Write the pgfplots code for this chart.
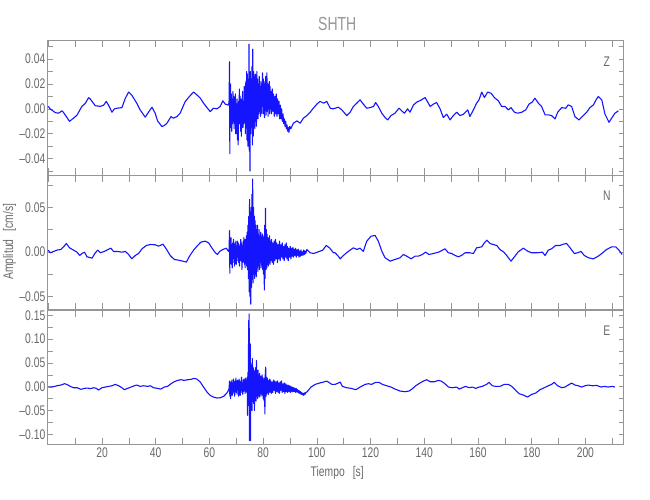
\documentclass[border=0pt]{standalone}
\usepackage{pgfplots}
\pgfplotsset{compat=1.18}
\usepackage{pgfplotstable}
\usepackage{fontspec}
\setmainfont{Liberation Sans}[FakeStretch=0.74]
\definecolor{txt}{RGB}{105,105,105}
\definecolor{frm}{RGB}{150,150,150}
\definecolor{ttl}{RGB}{150,150,150}
\definecolor{trace}{RGB}{20,20,255}

\pgfplotstableread{
t v
0 0.002
0.7 0.000
2.6 -0.003
3.8 -0.0035
5.1 -0.0016
5.7 -0.003
7.9 -0.010
9.4 -0.0075
10.7 -0.005
12.5 0.002
13.8 0.0045
15.0 0.009
15.6 0.008
17.5 0.0025
19.4 0.002
20.6 0.003
21.6 0.006
22.5 0.0027
23.7 -0.0027
24.6 0.000
25.6 0.0005
27.4 0.001
28.7 0.0086
29.9 0.0135
31.1 0.011
33.0 0.0043
34.2 -0.0008
36.1 -0.0067
37.3 -0.0027
38.6 0.0013
39.8 -0.0035
40.7 -0.0097
42.3 -0.0142
43.2 -0.0134
44.2 -0.0115
45.7 -0.0062
46.6 -0.0075
47.9 -0.0062
49.1 -0.0035
51.0 0.006
52.9 0.0108
54.1 0.0135
55.3 0.0113
56.6 0.0086
57.8 0.0046
59.1 0.001
60.3 -0.0022
61.5 0.0005
62.8 0.000
64.0 0.0019
65.0 0.0065
65.9 0.0038
67.0 0.003
67.3 0.005
67.5 0.038
67.6 -0.036
67.7 0.015
67.8 -0.010
67.9 0.020
68.0 -0.015
68.15 0.012
68.3 -0.018
68.45 0.008
68.6 -0.012
68.75 0.014
68.9 -0.008
69.05 0.010
69.2 -0.016
69.35 0.006
69.5 -0.010
69.65 0.012
69.8 -0.020
69.95 0.004
70.1 -0.014
70.25 0.008
70.4 -0.025
70.55 0.002
70.7 -0.029
70.85 0.006
71.0 -0.012
71.15 0.016
71.3 -0.006
71.45 0.010
71.6 -0.018
71.75 0.004
71.9 -0.022
72.05 0.008
72.2 -0.010
72.35 0.014
72.5 -0.015
72.65 0.006
72.8 -0.012
72.95 0.018
73.1 -0.008
73.25 0.012
73.4 -0.020
73.55 0.022
73.7 -0.010
73.85 0.030
74.0 -0.025
74.15 0.028
74.3 -0.030
74.45 0.020
74.6 -0.018
74.75 0.052
74.85 -0.034
75.0 0.026
75.1 -0.050
75.25 0.030
75.4 -0.020
75.55 0.024
75.7 -0.015
75.85 0.034
76.0 -0.029
76.15 0.048
76.3 -0.022
76.45 0.030
76.6 -0.012
76.75 0.026
76.9 -0.016
77.05 0.028
77.2 -0.010
77.35 0.022
77.5 -0.014
77.65 0.030
77.8 -0.006
77.95 0.024
78.1 -0.008
78.25 0.020
78.4 -0.004
78.55 0.026
78.7 -0.002
78.85 0.018
79.0 -0.006
79.15 0.022
79.3 0.000
79.45 0.020
79.6 -0.004
79.75 0.029
79.9 0.002
80.05 0.024
80.2 -0.004
80.35 0.020
80.5 -0.007
80.65 0.022
80.8 0.000
80.95 0.026
81.1 -0.005
81.25 0.018
81.4 0.029
81.55 -0.002
81.7 0.020
81.85 -0.006
82.0 0.016
82.15 0.002
82.3 0.022
82.45 -0.004
82.6 0.018
82.75 0.000
82.9 0.014
83.15 -0.004
83.4 0.016
83.65 -0.002
83.9 0.012
84.15 -0.006
84.4 0.010
84.65 -0.004
84.9 0.012
85.15 -0.006
85.4 0.008
85.65 -0.004
85.9 0.006
86.15 -0.008
86.4 0.003
86.65 -0.008
86.9 0.000
87.15 -0.010
87.4 -0.004
87.65 -0.012
87.9 -0.008
88.15 -0.014
88.4 -0.010
88.65 -0.016
88.9 -0.013
89.15 -0.018
89.4 -0.015
89.6 -0.019
89.9 -0.014
90.3 -0.016
91.3 -0.0115
92.6 -0.0097
93.8 -0.0115
95.0 -0.0075
96.3 -0.0054
97.5 -0.0027
98.7 0.0005
100.0 0.0038
101.2 0.006
102.5 0.0046
103.7 0.006
105.0 0.0005
106.0 0.000
106.8 0.0005
108.0 0.0013
109.3 -0.0008
111.1 -0.0054
112.4 -0.0027
113.6 0.0019
114.9 0.0046
116.1 0.0073
117.3 0.0038
118.6 0.0005
119.8 0.001
121.1 0.0019
121.9 0.0051
122.9 0.0019
124.2 -0.0035
125.4 -0.007
126.4 -0.0089
127.6 -0.0054
129.1 -0.0035
130.6 0.0005
131.6 -0.0016
132.6 -0.0035
133.8 0.000
134.7 -0.0027
136.0 0.0032
137.2 0.0054
138.8 0.007
140.3 0.0091
141.3 0.0054
142.2 0.0019
143.4 0.0038
144.6 0.0051
145.9 0.000
147.1 -0.007
148.4 -0.0043
149.6 -0.0089
150.8 -0.0054
152.1 -0.0027
153.3 -0.0054
154.6 -0.0043
156.2 -0.0008
157.0 -0.0062
158.3 -0.0008
159.5 0.0046
160.4 0.0073
161.4 0.0135
162.4 0.0091
163.6 0.0135
164.9 0.0126
166.1 0.0091
167.6 0.0065
168.8 0.0019
170.1 0.0019
171.3 -0.0008
172.3 0.001
173.6 -0.0027
174.8 -0.0035
176.3 -0.0027
177.8 -0.0008
179.0 0.0038
180.2 0.0054
181.2 0.0086
182.5 0.0046
183.7 0.0019
185.0 -0.0048
186.2 -0.0048
187.4 -0.0054
188.7 -0.0081
189.7 -0.0027
191.2 0.001
192.7 0.0005
193.6 0.0032
194.9 0.0019
196.1 -0.0062
197.6 -0.0089
199.2 -0.0054
200.5 -0.0027
201.7 0.001
203.0 0.0032
204.0 0.0073
204.8 0.0099
206.1 0.0073
207.3 -0.0043
208.8 -0.0108
209.8 -0.0075
211.0 -0.0035
212.3 -0.0016
}\dataZ

\pgfplotstableread{
t v
0 0.0019
0.7 -0.0011
2.0 0.0004
3.2 0.0019
4.7 0.0026
5.7 0.0056
6.7 0.0094
7.9 0.0045
9.4 0.0019
10.7 -0.0004
11.7 -0.0041
12.5 -0.0019
13.5 -0.0004
14.4 -0.0056
16.3 -0.0071
17.5 -0.0011
18.4 0.0019
19.4 -0.0011
20.8 0.0004
21.8 0.0019
23.3 0.0041
24.3 0.0004
25.8 0.0004
27.4 -0.0004
28.7 0.0004
29.9 -0.003
31.1 -0.0079
32.4 -0.0041
33.6 -0.0019
34.9 0.0034
36.5 0.0071
38.0 0.0082
39.8 0.0079
41.1 0.0064
42.7 0.0086
43.9 0.0034
45.4 -0.0041
46.9 -0.0086
48.5 -0.0094
50.1 -0.0105
51.4 -0.0116
52.6 -0.0049
54.1 0.0019
55.6 0.0071
56.8 0.0109
58.4 0.012
59.7 0.0101
60.9 0.0045
62.2 -0.0011
63.0 -0.003
63.8 0.0004
65.0 0.0026
66.3 0.0041
67.1 0.0004
67.3 0.002
67.5 0.024
67.6 -0.024
67.75 0.012
67.9 -0.010
68.05 0.016
68.2 -0.014
68.35 0.008
68.5 -0.018
68.65 0.010
68.8 -0.006
68.95 0.014
69.1 -0.012
69.25 0.006
69.4 -0.016
69.55 0.010
69.7 -0.008
69.85 0.012
70.0 -0.014
70.15 0.004
70.3 -0.010
70.45 0.012
70.6 -0.006
70.75 0.010
70.9 -0.012
71.05 0.008
71.2 -0.016
71.35 0.006
71.5 -0.010
71.65 0.014
71.8 -0.008
71.95 0.010
72.1 -0.020
72.25 0.006
72.4 -0.012
72.55 0.012
72.7 -0.008
72.85 0.016
73.0 -0.014
73.15 0.010
73.3 -0.018
73.45 0.014
73.6 -0.010
73.75 0.018
73.9 -0.016
74.05 0.022
74.2 -0.020
74.35 0.030
74.5 -0.030
74.65 0.040
74.8 -0.045
74.95 0.059
75.1 -0.050
75.25 0.045
75.4 -0.059
75.55 0.050
75.7 -0.040
75.85 0.065
76.0 -0.030
76.1 0.082
76.25 -0.035
76.4 0.050
76.55 -0.025
76.7 0.040
76.85 -0.030
77.0 0.035
77.15 -0.020
77.3 0.030
77.45 -0.028
77.6 0.025
77.75 -0.018
77.9 0.030
78.05 -0.022
78.2 0.020
78.35 -0.015
78.5 0.025
78.65 -0.020
78.8 0.018
78.95 -0.012
79.1 0.022
79.25 -0.018
79.4 0.015
79.55 -0.015
79.7 0.020
79.85 -0.020
80.0 0.016
80.15 -0.025
80.3 0.018
80.45 -0.043
80.6 0.030
80.75 -0.030
80.9 0.049
81.05 -0.020
81.2 0.025
81.35 -0.018
81.5 0.020
81.65 -0.014
81.8 0.016
81.95 -0.016
82.1 0.014
82.25 -0.012
82.4 0.018
82.55 -0.014
82.7 0.012
82.85 -0.010
83.1 0.014
83.35 -0.012
83.6 0.010
83.85 -0.014
84.1 0.012
84.35 -0.010
84.6 0.014
84.85 -0.008
85.1 0.010
85.35 -0.012
85.6 0.008
85.85 -0.008
86.1 0.012
86.35 -0.010
86.6 0.008
86.85 -0.006
87.1 0.010
87.35 -0.008
87.6 0.006
87.85 -0.010
88.1 0.008
88.35 -0.006
88.6 0.010
88.85 -0.008
89.1 0.006
89.35 -0.010
89.6 0.004
89.85 -0.006
90.1 0.006
90.35 -0.008
90.6 0.004
90.85 -0.005
91.1 0.005
91.35 -0.006
91.6 0.003
91.85 -0.004
92.1 0.004
92.35 -0.006
92.6 0.002
92.85 -0.004
93.1 0.003
93.35 -0.006
93.6 0.001
93.85 -0.005
94.1 0.002
94.35 -0.004
94.6 0.000
94.85 -0.004
95.1 0.002
95.35 -0.003
95.6 0.001
95.85 -0.002
96.3 0.0026
97.5 -0.0011
98.8 -0.0019
100.6 0.000
102.2 0.0019
103.5 0.0071
104.7 0.0045
106.2 -0.0011
106.8 -0.0011
108.0 -0.0049
108.7 -0.0079
109.9 -0.0041
111.1 -0.0011
112.4 0.0019
113.6 0.0045
114.9 0.0026
116.1 0.0041
117.3 0.0004
118.6 0.012
120.2 0.0176
121.7 0.0184
122.9 0.012
124.2 0.0007
125.4 -0.0067
127.3 -0.0105
129.1 -0.0086
131.0 -0.0067
132.2 -0.003
133.5 -0.0049
135.1 -0.0079
136.6 -0.0049
137.8 -0.0049
139.3 -0.003
140.5 -0.0004
141.8 -0.003
143.4 -0.0019
145.3 -0.0004
146.8 0.0019
147.7 0.0034
149.0 -0.0011
150.2 -0.0019
151.5 -0.0041
152.7 -0.0056
153.9 -0.0041
155.2 -0.0011
157.0 -0.0011
158.3 -0.0019
159.5 0.0045
161.4 0.0056
162.4 0.0101
163.3 0.0131
164.5 0.0094
165.7 0.0082
167.0 0.0071
168.2 0.0026
169.5 0.000
170.7 -0.0041
172.3 -0.0105
173.6 -0.0056
175.0 0.000
176.9 0.0041
178.5 0.0007
180.0 -0.0011
181.9 -0.0011
184.0 -0.0004
185.0 -0.0041
186.2 0.0019
187.4 0.0034
188.9 0.0071
190.5 0.0071
191.8 0.0086
193.0 0.0094
194.3 0.0045
195.9 -0.0019
197.1 -0.0011
198.4 0.0004
199.6 -0.0041
201.1 -0.0067
203.0 -0.0079
204.8 -0.0049
206.1 -0.0019
207.9 0.0026
209.8 0.0056
211.3 0.0056
212.5 0.0019
213.7 -0.003
}\dataN

\pgfplotstableread{
t v
0 -0.0007
1.4 -0.0007
3.2 0.002
4.7 0.0035
6.0 0.0063
6.9 0.0049
8.2 0.0007
9.4 -0.0021
10.7 -0.0021
12.2 -0.0056
13.4 -0.0035
14.6 -0.0028
15.6 -0.0042
16.9 -0.0021
17.9 -0.0035
18.7 -0.007
20.0 -0.0021
21.2 -0.0007
22.5 0.0007
23.7 0.002
24.9 0.0049
26.2 0.002
27.4 -0.0021
28.3 -0.0063
29.5 -0.0035
30.8 -0.0007
32.0 0.002
33.0 0.0035
34.2 0.0007
35.5 0.002
37.0 0.0007
38.0 0.002
39.2 -0.0021
40.7 -0.0035
41.9 -0.0049
43.2 -0.0007
44.4 0.0007
45.7 0.0063
46.9 0.0105
48.1 0.0133
49.4 0.0147
50.6 0.0133
51.9 0.0147
53.1 0.0154
54.3 0.0175
55.3 0.0161
56.6 0.0098
57.8 -0.0007
59.1 -0.0112
60.3 -0.0182
61.5 -0.0217
62.8 -0.0238
64.0 -0.0231
65.3 -0.0203
66.5 -0.0133
67.1 -0.0077
67.3 -0.004
67.5 0.012
67.6 -0.020
67.75 0.010
67.9 -0.025
68.05 0.006
68.2 -0.012
68.35 0.014
68.5 -0.018
68.65 0.008
68.8 -0.010
68.95 0.016
69.1 -0.014
69.25 0.010
69.4 -0.020
69.55 0.012
69.7 -0.008
69.85 0.018
70.0 -0.012
70.15 0.010
70.3 -0.016
70.45 0.014
70.6 -0.006
70.75 0.012
70.9 -0.020
71.05 0.016
71.2 -0.010
71.35 0.012
71.5 -0.018
71.65 0.010
71.8 -0.008
71.95 0.020
72.1 -0.012
72.25 0.008
72.4 -0.016
72.55 0.014
72.7 -0.010
72.85 0.016
73.0 -0.008
73.15 0.012
73.3 -0.014
73.45 0.018
73.6 -0.010
73.75 0.014
73.9 -0.012
74.05 0.020
74.2 -0.060
74.35 0.030
74.5 -0.020
74.6 0.139
74.7 -0.040
74.8 0.153
74.9 -0.113
75.0 0.080
75.1 -0.060
75.2 0.090
75.3 -0.113
75.4 0.050
75.55 -0.040
75.7 0.045
75.85 -0.050
76.0 0.059
76.15 -0.030
76.3 0.040
76.45 -0.035
76.6 0.030
76.75 -0.050
76.9 0.035
77.05 -0.025
77.2 0.040
77.35 -0.030
77.5 0.055
77.65 -0.020
77.8 0.030
77.95 -0.025
78.1 0.035
78.25 -0.018
78.4 0.025
78.55 -0.022
78.7 0.028
78.85 -0.015
79.0 0.022
79.15 -0.020
79.3 0.018
79.45 -0.015
79.6 0.025
79.75 -0.018
79.9 0.020
80.05 -0.025
80.2 0.015
80.35 -0.030
80.5 0.018
80.65 -0.057
80.8 0.025
80.95 0.041
81.1 -0.020
81.25 0.020
81.4 -0.015
81.55 0.018
81.7 -0.012
81.85 0.014
82.0 -0.016
82.15 0.012
82.3 -0.010
82.45 0.016
82.6 -0.012
82.85 0.012
83.1 -0.014
83.35 0.010
83.6 -0.012
83.85 0.014
84.1 -0.008
84.35 0.012
84.6 -0.014
84.85 0.010
85.1 -0.010
85.35 0.012
85.6 -0.012
85.85 0.008
86.1 -0.014
86.35 0.010
86.6 -0.008
86.85 0.012
87.1 -0.012
87.35 0.006
87.6 -0.010
87.85 0.008
88.1 -0.014
88.35 0.006
88.6 -0.010
88.85 0.004
89.1 -0.012
89.35 0.003
89.6 -0.010
89.85 0.002
90.1 -0.012
90.35 0.001
90.6 -0.010
90.85 -0.001
91.1 -0.011
91.35 -0.002
91.6 -0.010
91.85 -0.003
92.1 -0.012
92.35 -0.004
92.6 -0.011
92.85 -0.006
93.1 -0.013
93.35 -0.008
93.6 -0.014
93.85 -0.010
94.1 -0.016
94.35 -0.012
94.6 -0.017
94.85 -0.014
95.1 -0.018
95.35 -0.013
95.6 -0.016
95.85 -0.012
96.3 -0.0112
97.8 -0.0007
99.4 0.0049
101.0 0.0077
102.5 0.0098
103.7 0.0119
105.6 0.0049
106.8 0.0049
108.0 0.0077
108.7 0.0098
109.5 0.0007
111.1 -0.0021
112.8 -0.0035
114.5 -0.0063
116.1 -0.0007
118.0 0.0049
119.2 0.0063
120.4 0.0049
121.9 0.0091
123.2 0.0091
124.4 0.0049
126.0 0.002
127.6 -0.0007
129.1 -0.0049
131.0 -0.0091
132.9 -0.0105
134.3 -0.0091
135.6 -0.0042
136.8 0.002
138.4 0.0077
139.7 0.0119
140.9 0.0147
142.2 0.0105
143.8 0.0105
145.3 0.0133
146.3 0.0119
147.7 0.0063
149.0 -0.0007
150.5 -0.0021
152.1 -0.0007
153.0 -0.0049
154.2 -0.0021
155.4 0.0007
156.7 -0.0021
157.9 -0.0007
159.2 -0.0035
160.4 -0.0007
161.6 0.0007
163.2 0.0049
164.1 0.0091
165.4 0.002
166.6 0.0007
168.2 0.0007
169.8 0.0049
171.3 0.0049
172.6 0.0007
173.8 -0.0063
175.3 -0.0147
176.9 -0.0175
178.5 -0.0217
180.0 -0.0161
181.5 -0.0133
183.1 -0.0063
184.7 -0.0021
186.2 0.002
187.4 0.0049
188.4 0.0091
189.7 0.002
191.2 -0.0021
192.4 -0.0007
193.6 0.0035
194.9 0.0077
196.1 0.0035
197.4 0.002
198.6 -0.0007
199.9 0.002
201.1 0.0035
202.6 0.002
204.2 0.0028
205.8 -0.0007
207.1 0.0007
208.5 -0.0007
210.0 0.0007
211.0 -0.0007
}\dataE

\pgfplotsset{
  seis/.style={
    scale only axis, width=576bp, height=135bp,
    xmin=-0.3, xmax=214.2,
    axis line style={frm, line width=0.6bp},
    every tick/.style={frm, line width=0.6bp},
    tick align=inside,
    xtick={0,20,...,200}, minor xtick={10,30,...,210},
    xtick pos=both, ytick pos=both,
    major tick length=5bp, minor tick length=5bp,
    xtick style={/pgfplots/major tick length=7bp, /pgfplots/minor tick length=7bp},
    tick label style={font=\fontsize{14}{14}\selectfont, text=txt},
    yticklabel style={inner xsep=2bp},
    scaled y ticks=false,
    clip=true,
  },
  tr/.style={trace, line width=1.1bp, line join=round},
}
\tikzset{chan/.style={font=\fontsize{14}{14}\selectfont, text=txt, anchor=center}}

\begin{document}
\begin{tikzpicture}
\useasboundingbox (0,0) rectangle (650bp,500bp);

\begin{axis}[seis, at={(47.5bp,460bp)}, anchor=north west,
  ymin=-0.0532, ymax=0.0554,
  ytick={-0.04,-0.02,0,0.02,0.04},
  yticklabels={\textendash0.04,\textendash0.02,0.00,0.02,0.04},
  minor ytick={-0.05,-0.03,-0.01,0.01,0.03,0.05},
  xticklabels={},
  title={SHTH}, title style={font=\fontsize{19}{19}\selectfont, text=ttl, at={(axis description cs:0.503,1)}, anchor=center, yshift=10bp}]
\addplot[tr] table[x=t, y=v] {\dataZ};
\node[chan] at (rel axis cs:0.971,0.842) {Z};
\end{axis}

\begin{axis}[seis, at={(47.5bp,325bp)}, anchor=north west,
  ymin=-0.0655, ymax=0.0865,
  ytick={-0.05,0,0.05},
  yticklabels={\textendash0.05,0.00,0.05},
  minor ytick={-0.025,0.025,0.075},
  xticklabels={},
  ylabel={Amplitud \, [cm/s]},
  ylabel style={font=\fontsize{14}{14}\selectfont, text=txt, at={(axis description cs:-0.066,0.506)}, anchor=center}]
\addplot[tr] table[x=t, y=v] {\dataN};
\node[chan] at (rel axis cs:0.971,0.844) {N};
\end{axis}

\begin{axis}[seis, at={(47.5bp,190.3bp)}, anchor=north west,
  ymin=-0.1218, ymax=0.1618,
  ytick={-0.10,-0.05,0,0.05,0.10,0.15},
  yticklabels={\textendash0.10,\textendash0.05,0.00,0.05,0.10,0.15},
  minor ytick={-0.075,-0.025,0.025,0.075,0.125},
  xtick={20,40,...,200}, xticklabels={20,40,60,80,100,120,140,160,180,200},
  minor xtick={10,30,...,210},
  xlabel={Tiempo \, [s]},
  xlabel style={font=\fontsize{14}{14}\selectfont, text=txt, at={(axis description cs:0.503,0)}, anchor=center, yshift=-28bp}]
\addplot[tr] table[x=t, y=v] {\dataE};
\node[chan] at (rel axis cs:0.971,0.842) {E};
\end{axis}
\end{tikzpicture}
\end{document}
